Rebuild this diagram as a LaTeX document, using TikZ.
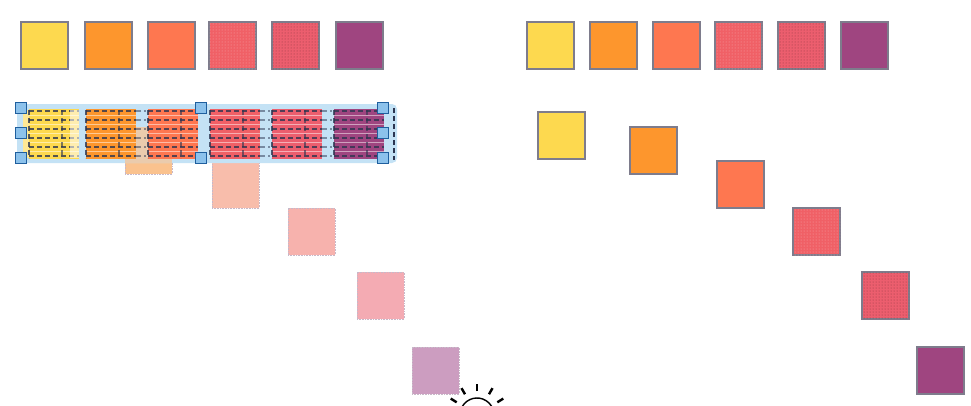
\documentclass[tikz,border=0pt]{standalone}
\usetikzlibrary{patterns}
\definecolor{cYel}{HTML}{FDD94F}
\definecolor{cOra}{HTML}{FD962D}
\definecolor{cCor}{HTML}{FE7750}
\definecolor{cRed}{HTML}{F06066}
\definecolor{cPnk}{HTML}{EC5E6E}
\definecolor{cPur}{HTML}{9F4580}
\definecolor{sqborder}{HTML}{7E7C8C}
\definecolor{fOra}{HTML}{FAC28E}
\definecolor{fPea}{HTML}{F8BDAB}
\definecolor{fPnk}{HTML}{F7B2AD}
\definecolor{fRos}{HTML}{F4ABB3}
\definecolor{fPur}{HTML}{CC9DC0}
\definecolor{fBord}{HTML}{C8B8C8}
\definecolor{bandblue}{HTML}{C4E2F5}
\definecolor{hfill}{HTML}{8CC2EC}
\definecolor{hdraw}{HTML}{1F5F9E}
\definecolor{dashc}{HTML}{2C3550}
\begin{document}
\begin{tikzpicture}[x=1pt,y=-1pt,
  sq/.style={draw=sqborder, line width=1.1pt, minimum size=47pt, inner sep=0pt, outer sep=0pt, anchor=north west},
  fsq/.style={draw=fBord, line width=0.6pt, densely dotted, minimum size=47pt, inner sep=0pt, outer sep=0pt, anchor=north west},
  dotsA/.style={postaction={pattern=dots, pattern color=white!45!cRed}},
  dotsB/.style={postaction={pattern=dots, pattern color=black!40!cPnk}},
  handle/.style={draw=hdraw, fill=hfill, line width=1pt, minimum size=11pt, inner sep=0pt},
  stripe/.style={dashc, line width=1.5pt, dash pattern=on 5pt off 3pt},
  click/.style={line width=1.4pt, line cap=round}]
\useasboundingbox (0,0) rectangle (971,405);
\fill[white] (0,0) rectangle (971,405);

% ---- top row left
\node[sq, fill=cYel] (la) at (21,22) {};
\node[sq, fill=cOra] (lb) at (85,22) {};
\node[sq, fill=cCor] (lc) at (148,22) {};
\node[sq, fill=cRed, dotsA] (ld) at (209,22) {};
\node[sq, fill=cPnk, dotsB] (le) at (272,22) {};
\node[sq, fill=cPur] (lf) at (336,22) {};

% ---- top row right
\node[sq, fill=cYel] (ra) at (527,22) {};
\node[sq, fill=cOra] (rb) at (590,22) {};
\node[sq, fill=cCor] (rc) at (653,22) {};
\node[sq, fill=cRed, dotsA] (rd) at (715,22) {};
\node[sq, fill=cPnk, dotsB] (re) at (778,22) {};
\node[sq, fill=cPur] (rf) at (841,22) {};

% ---- right diagonal
\node[sq, fill=cYel] (da) at (538,112) {};
\node[sq, fill=cOra] (db) at (630,127) {};
\node[sq, fill=cCor] (dc) at (717,161) {};
\node[sq, fill=cRed, dotsA] (dd) at (793,208) {};
\node[sq, fill=cPnk, dotsB] (de) at (862,272) {};
\node[sq, fill=cPur] (df) at (917,347) {};

% ---- faded left diagonal
\node[fsq, fill=fOra] (fb) at (125,127) {};
\node[fsq, fill=fPea] (fc) at (212,161) {};
\node[fsq, fill=fPnk] (fd) at (288,208) {};
\node[fsq, fill=fRos] (fe) at (357,272) {};
\node[fsq, fill=fPur] (ff) at (412,347) {};

% ---- selection band
\fill[bandblue, rounded corners=5pt] (17,104) rectangle (397,163);
\draw[stripe] (394,108) -- (394,160);
\fill[fOra!70!bandblue] (125,127) rectangle (172,163);
\fill[cYel!60!white] (23,110) rectangle (29,158);
\foreach \x/\c in {29/cYel, 86/cOra, 148/cCor, 210/cRed, 272/cPnk, 334/cPur}{
  \fill[\c] (\x,109) rectangle ++(50,50);
  \foreach \y in {115.5,124.5,133.5,142.5,151.5}{
    \draw[white, opacity=0.5, line width=1.8pt] (\x,\y) -- ++(50,0);
  }
  \foreach \y in {111,120,129,138,147,156}{
    \draw[stripe, opacity=0.8] (\x,\y) -- ++(50,0);
  }
  \draw[stripe, opacity=0.8] (\x,110) -- (\x,158);
  \draw[stripe, opacity=0.6] (\x+33,110) -- (\x+33,158);
}
\fill[white, opacity=0.55] (70,110) rectangle (79,158);
\foreach \y in {111,120,129,138,147,156}{
  \draw[stripe, opacity=0.5] (136,\y) -- ++(10,0);
  \draw[stripe, opacity=0.5] (260,\y) -- ++(10,0);
  \draw[stripe, opacity=0.5] (322,\y) -- ++(10,0);
}

% ---- handles
\node[handle] (h1) at (21,108) {};
\node[handle] (h2) at (21,133) {};
\node[handle] (h3) at (21,158) {};
\node[handle] (h4) at (201,108) {};
\node[handle] (h5) at (201,158) {};
\node[handle] (h6) at (383,108) {};
\node[handle] (h7) at (383,133) {};
\node[handle] (h8) at (383,158) {};

% ---- click indicator
\coordinate (cc) at (477,415);
\draw[click] (cc) ++(200:17) arc[start angle=200, end angle=340, radius=17];
\foreach \a in {212,240,270,300,328}{
  \draw[line width=2.4pt] (cc) ++(\a:24) -- ++(\a:7);
}
\end{tikzpicture}
\end{document}
